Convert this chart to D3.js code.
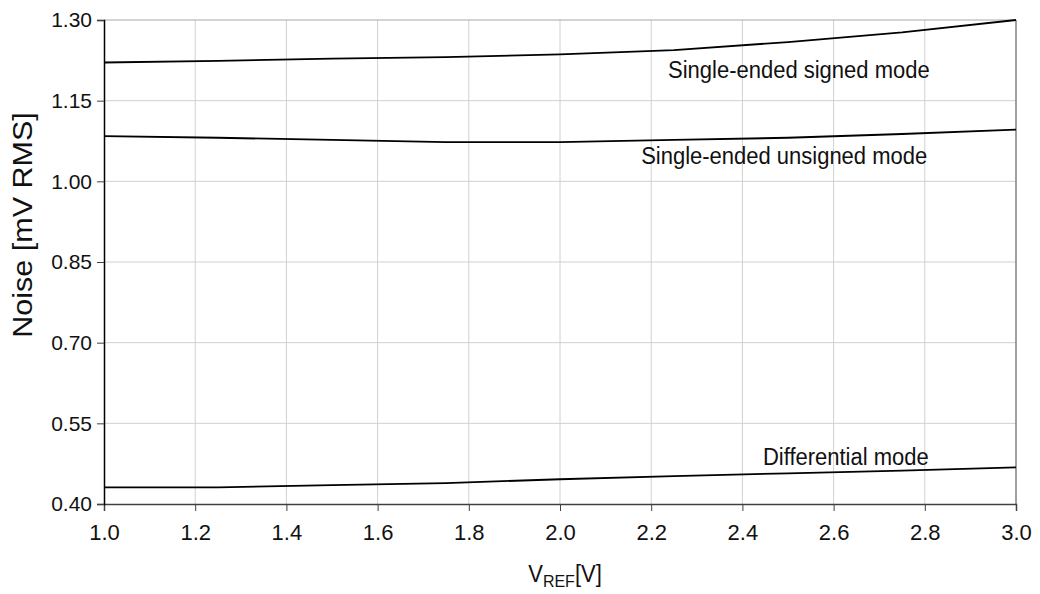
<!DOCTYPE html>
<html><head><meta charset="utf-8">
<script src="https://cdn.jsdelivr.net/npm/d3@7"></script>
<style>body{margin:0;background:#fff;} svg{display:block;font-family:"Liberation Sans",Arial,sans-serif;}</style>
</head><body>
<svg id="c" width="1040" height="594"></svg>
<script>
const vref = [1.0, 1.25, 1.5, 1.75, 2.0, 2.25, 2.5, 2.75, 3.0];
const signedMode = [1.221, 1.224, 1.228, 1.231, 1.236, 1.244, 1.259, 1.277, 1.300];
const unsignedMode = [1.084, 1.081, 1.077, 1.073, 1.073, 1.077, 1.081, 1.088, 1.096];
const differentialMode = [0.431, 0.431, 0.435, 0.439, 0.446, 0.452, 0.457, 0.462, 0.468];
const xTicks = [1.0, 1.2, 1.4, 1.6, 1.8, 2.0, 2.2, 2.4, 2.6, 2.8, 3.0];
const yTicks = [0.40, 0.55, 0.70, 0.85, 1.00, 1.15, 1.30];
const seriesLabels = ["Single-ended signed mode", "Single-ended unsigned mode", "Differential mode"];

const svg = d3.select("#c");
const L = 104, R = 1016, T = 20, B = 504;
const x = d3.scaleLinear().domain([1.0, 3.0]).range([L, R]);
const y = d3.scaleLinear().domain([0.40, 1.30]).range([B, T]);
const FONT = "Liberation Sans, Arial, sans-serif";

// grid
svg.append("g").selectAll("line").data(xTicks.slice(1, -1)).join("line")
  .attr("x1", d => x(d)).attr("x2", d => x(d)).attr("y1", T).attr("y2", B)
  .attr("stroke", "#d0d0d0").attr("stroke-width", 1);
svg.append("g").selectAll("line").data(yTicks.slice(1, -1)).join("line")
  .attr("y1", d => y(d)).attr("y2", d => y(d)).attr("x1", L).attr("x2", R)
  .attr("stroke", "#d0d0d0").attr("stroke-width", 1);
// top/right border
svg.append("line").attr("x1", L).attr("x2", R).attr("y1", T).attr("y2", T).attr("stroke", "#a8a8a8");
svg.append("line").attr("x1", R).attr("x2", R).attr("y1", T).attr("y2", B).attr("stroke", "#808080").attr("stroke-width", 1.5);

// axes
const xAxis = svg.append("g").attr("transform", `translate(0,${B})`)
  .call(d3.axisBottom(x).tickValues(xTicks).tickFormat(d3.format(".1f")).tickSize(7).tickPadding(13));
xAxis.select(".domain").attr("stroke", "#404040").attr("stroke-width", 1.5);
xAxis.selectAll(".tick line").attr("stroke", "#404040");
xAxis.selectAll("text").attr("font-size", 22).attr("fill", "#111").attr("font-family", FONT);

const yAxis = svg.append("g").attr("transform", `translate(${L},0)`)
  .call(d3.axisLeft(y).tickValues(yTicks).tickFormat(d3.format(".2f")).tickSize(7).tickPadding(5));
yAxis.select(".domain").attr("stroke", "#000").attr("stroke-width", 1.5);
yAxis.selectAll(".tick line").attr("stroke", "#404040");
yAxis.selectAll("text").attr("font-size", 21).attr("fill", "#111").attr("font-family", FONT);

// lines
const line = d3.line().x((d, i) => x(vref[i])).y(d => y(d));
[signedMode, unsignedMode, differentialMode].forEach(s => {
  svg.append("path").datum(s).attr("d", line).attr("fill", "none")
    .attr("stroke", "#000").attr("stroke-width", 1.8);
});

// labels
const lab = [
  {t: seriesLabels[0], xv: 2.237, yv: 1.192},
  {t: seriesLabels[1], xv: 2.178, yv: 1.033},
  {t: seriesLabels[2], xv: 2.445, yv: 0.4725}
];
svg.append("g").selectAll("text").data(lab).join("text")
  .attr("transform", d => `translate(${x(d.xv)},${y(d.yv)}) scale(1,1.07)`)
  .attr("font-size", 22).attr("fill", "#111")
  .text(d => d.t);

// axis titles
svg.append("text").attr("transform", "translate(32,225) rotate(-90) scale(1.13,1)")
  .attr("text-anchor", "middle").attr("font-size", 27).attr("fill", "#111").text("Noise [mV RMS]");
const xt = svg.append("text").attr("transform", "translate(565,582) scale(1,1.05)").attr("text-anchor", "middle").attr("font-size", 22).attr("fill", "#111");
xt.append("tspan").text("V");
xt.append("tspan").attr("font-size", 16).attr("dy", 5).text("REF");
xt.append("tspan").attr("dy", -5).text("[V]");
</script>
</body></html>
